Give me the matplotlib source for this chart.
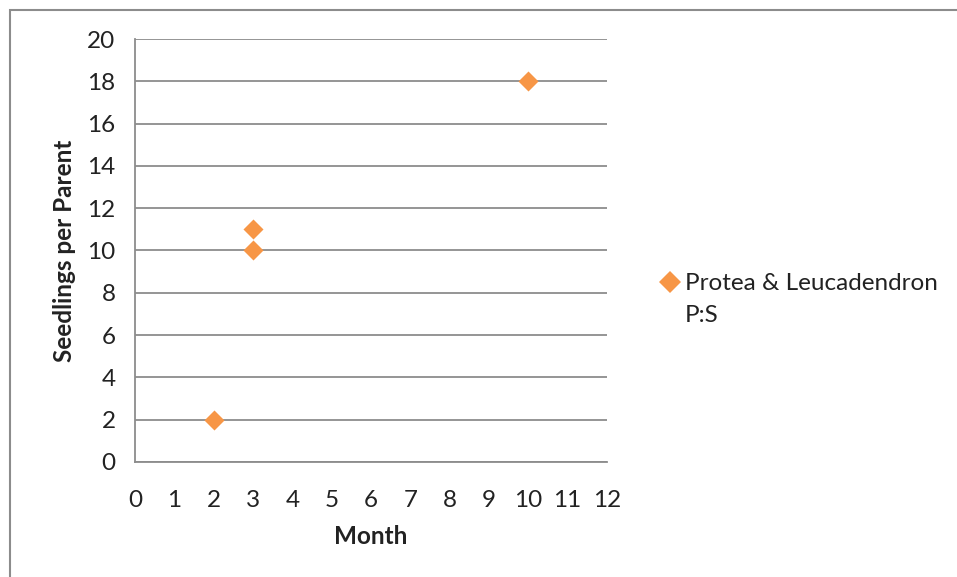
import matplotlib
matplotlib.use("Agg")
import matplotlib.pyplot as plt
from matplotlib.patches import Rectangle
from matplotlib.lines import Line2D

plt.rcParams['font.family'] = ['Lato', 'DejaVu Sans']

month = [2, 3, 3, 10]
seedlings = [2, 10, 11, 18]
series_lines = ["Protea & Leucadendron", "P:S"]
x_ticks = list(range(0, 13))
y_ticks = list(range(0, 21, 2))

orange = "#F79646"
grid_grey = "#8C8C8C"
text_col = "#222222"
fs = 17.5

fig = plt.figure(figsize=(9.57, 5.77), dpi=100)
ax = fig.add_axes([135/957, 1 - 462/577, (607 - 135)/957, (462 - 39)/577])

ax.scatter(month, seedlings, marker="D", s=104, color=orange, zorder=3, linewidths=0)

ax.set_xlim(0, 12)
ax.set_ylim(0, 20)
ax.set_xticks(x_ticks)
ax.set_yticks(y_ticks)
ax.yaxis.grid(True, color=grid_grey, linewidth=1.3)
ax.set_axisbelow(True)
for side in ("top", "right"):
    ax.spines[side].set_visible(False)
for side in ("left", "bottom"):
    ax.spines[side].set_color(grid_grey)
    ax.spines[side].set_linewidth(1.3)
ax.tick_params(length=0, labelsize=fs, colors=text_col, pad=14)
ax.tick_params(axis="x", pad=20)

ax.set_xlabel("Month", fontsize=fs, fontweight="bold", color=text_col, labelpad=10)
ax.set_ylabel("Seedlings per Parent", fontsize=fs, fontweight="bold", color=text_col, labelpad=8)

# legend: the series name wraps onto a second line under the marker's label
handle = Line2D([], [], marker="D", linestyle="none", markersize=11,
                markerfacecolor=orange, markeredgewidth=0)
blank = Line2D([], [], linestyle="none", marker=None)
leg = fig.legend([handle, blank], series_lines, loc="upper left",
                 bbox_to_anchor=(663/957, 1 - 273/577), frameon=False,
                 fontsize=fs, handlelength=0.55, handletextpad=0.35,
                 labelspacing=0.45, borderaxespad=0, borderpad=0)
for t in leg.get_texts():
    t.set_color(text_col)

# chart area frame (left and top edges visible)
fig.patches.append(Rectangle((10/957, -0.1), 1.2, 1 - 10/577 + 0.1,
                             transform=fig.transFigure, fill=False,
                             edgecolor="#8C8C8C", linewidth=1.5))

fig.savefig("out.png", dpi=100)
